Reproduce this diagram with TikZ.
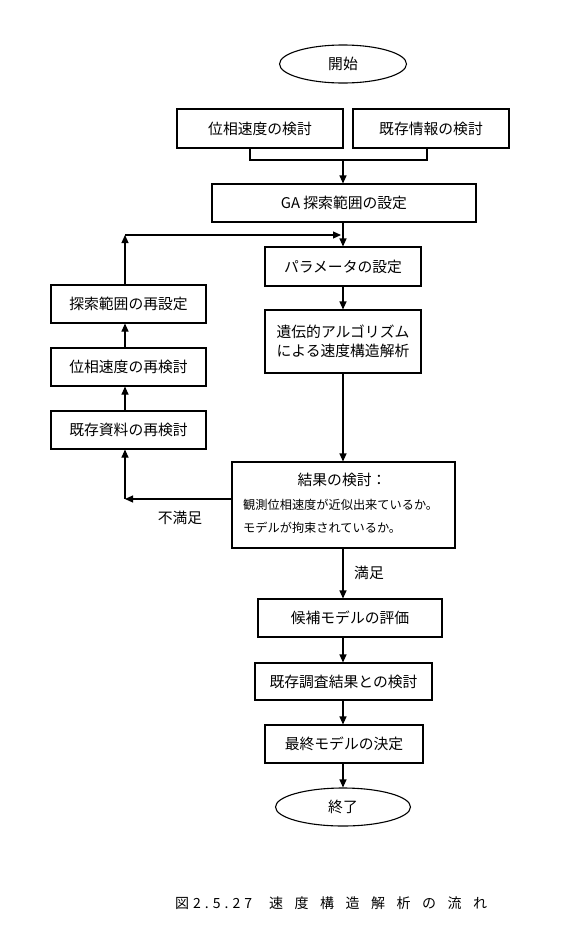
\documentclass[tikz,border=0pt]{standalone}
\usepackage{fontspec}
\setmainfont{Noto Sans CJK JP}
\usetikzlibrary{arrows.meta,shapes.geometric}
\newcommand{\cg}{\hspace{11.5pt}}
\newcommand{\dg}{\hspace{4pt}}
\tikzset{
  box/.style={draw, line width=1.1pt, minimum width=#1, inner sep=0pt, font=\fontsize{14.8}{18.5}\selectfont},
  oval/.style={draw, ellipse, line width=1.1pt, inner sep=0pt, font=\fontsize{14.8}{18}\selectfont},
  arr/.style={line width=1.1pt, -{Triangle[length=8pt,width=7pt]}},
  ln/.style={line width=1.1pt},
  lbl/.style={font=\fontsize{14.8}{18}\selectfont, inner sep=0pt},
  small/.style={font=\fontsize{12.2}{15}\selectfont, inner sep=0pt, anchor=west}
}
\begin{document}
\begin{tikzpicture}[x=1pt,y=-1pt]
\useasboundingbox (0,0) rectangle (565,940);
\coordinate (spine) at (343,0);
% nodes
\node[oval, minimum width=127pt, minimum height=38pt] (start) at (343,64) {開始};
\node[box=166pt, minimum height=39pt] (b1) at (260,128.5) {位相速度の検討};
\node[box=156pt, minimum height=39pt] (b2) at (431,128.5) {既存情報の検討};
\node[box=264pt, minimum height=38pt] (ga) at (344,203) {GA 探索範囲の設定};
\node[box=156pt, minimum height=39pt] (param) at (343,266.5) {パラメータの設定};
\node[box=156pt, minimum height=63pt, align=center] (gen) at (343,341.5) {遺伝的アルゴリズム\\による速度構造解析};
\node[box=155pt, minimum height=38pt] (l1) at (128.5,304) {探索範囲の再設定};
\node[box=155pt, minimum height=38pt] (l2) at (128.5,367) {位相速度の再検討};
\node[box=155pt, minimum height=38pt] (l3) at (128.5,430) {既存資料の再検討};
\node[box=223pt, minimum height=86pt] (res) at (343.5,505) {};
\node[lbl] (rt) at (342,480) {結果の検討：};
\node[small] (r1) at (243,505) {観測位相速度が近似出来ているか。};
\node[small] (r2) at (243,528) {モデルが拘束されているか。};
\node[box=184pt, minimum height=38pt] (c1) at (350,618) {候補モデルの評価};
\node[box=177pt, minimum height=37pt] (c2) at (343.5,681.5) {既存調査結果との検討};
\node[box=158pt, minimum height=38pt] (c3) at (344,744) {最終モデルの決定};
\node[oval, minimum width=135pt, minimum height=38pt] (end) at (343,807) {終了};
\node[lbl] (ns) at (180,518) {不満足};
\node[lbl] (ok) at (369,573) {満足};
\node[font=\fontsize{14}{16}\selectfont, inner sep=0pt, anchor=west] (cap) at (175,903)
  {図\dg 2\dg .\dg 5\dg .\dg 2\dg 7\hspace{17pt}速\cg 度\cg 構\cg 造\cg 解\cg 析\cg の\cg 流\cg れ};
% connectors
\coordinate (mrg) at (343,160);
\draw[ln] (b1.south -| 250,0) |- (mrg) -| (b2.south -| 427,0);
\draw[arr] (mrg) -- (ga.north -| spine);
\draw[arr] (ga.south -| spine) -- (param.north -| spine);
\draw[arr] (param.south -| spine) -- (gen.north -| spine);
\draw[arr] (gen.south -| spine) -- (res.north -| spine);
\draw[arr] (res.south -| spine) -- (c1.north -| spine);
\draw[arr] (c1.south -| spine) -- (c2.north -| spine);
\draw[arr] (c2.south -| spine) -- (c3.north -| spine);
\draw[arr] (c3.south -| spine) -- (end.north -| spine);
% feedback loop
\coordinate (lbot) at (125,499);
\coordinate (ltop) at (125,235);
\coordinate (ljoin) at (341,235);
\draw[arr] (res.west |- lbot) -- (lbot);
\draw[arr] (lbot) -- (l3.south -| lbot);
\draw[arr] (l3.north -| lbot) -- (l2.south -| lbot);
\draw[arr] (l2.north -| lbot) -- (l1.south -| lbot);
\draw[arr] (l1.north -| lbot) -- (ltop);
\draw[arr] (ltop) -- (ljoin);
\end{tikzpicture}
\end{document}
